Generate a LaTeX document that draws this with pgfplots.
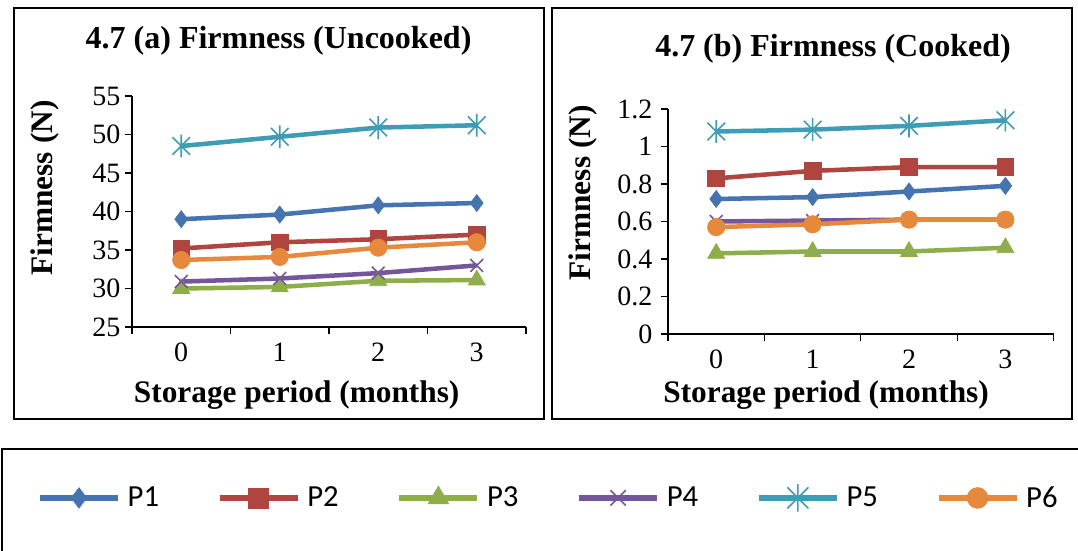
\documentclass[border=0pt]{standalone}
\usepackage{fontspec}
\setmainfont{Liberation Serif}
\newfontfamily\calibri{Carlito}
\usepackage{pgfplots}
\pgfplotsset{compat=1.18}

\definecolor{cP1}{HTML}{4674B0}
\definecolor{cP2}{HTML}{B0443F}
\definecolor{cP3}{HTML}{8EAD4B}
\definecolor{cP4}{HTML}{74579B}
\definecolor{cP5}{HTML}{3F9CB5}
\definecolor{cP6}{HTML}{E6893C}

\pgfdeclareplotmark{xstar}{%
  \pgfpathmoveto{\pgfpoint{-\pgfplotmarksize}{-\pgfplotmarksize}}%
  \pgfpathlineto{\pgfpoint{\pgfplotmarksize}{\pgfplotmarksize}}%
  \pgfpathmoveto{\pgfpoint{-\pgfplotmarksize}{\pgfplotmarksize}}%
  \pgfpathlineto{\pgfpoint{\pgfplotmarksize}{-\pgfplotmarksize}}%
  \pgfpathmoveto{\pgfpoint{0pt}{-1.3\pgfplotmarksize}}%
  \pgfpathlineto{\pgfpoint{0pt}{1.3\pgfplotmarksize}}%
  \pgfusepathqstroke}

\pgfplotsset{
  mystyle/.style={
    scale only axis,
    axis lines=left,
    axis line style={-, line width=1pt, black},
    tick align=outside,
    major tick length=5.25pt,
    minor tick length=5.25pt,
    tick style={line width=1pt, black},
    xmin=-0.5, xmax=3.5,
    xtick={0,1,2,3},
    minor xtick={-0.5,0.5,1.5,2.5,3.5},
    major x tick style={draw=none},
    xticklabel shift=3pt,
    ticklabel style={font=\fontsize{21}{24}\selectfont},
    /pgf/number format/assume math mode=true,
    label style={font=\bfseries\fontsize{23.5}{27}\selectfont},
    title style={font=\bfseries\fontsize{24}{28}\selectfont, anchor=center},
    clip=false,
  },
  pP1/.style={color=cP1, line width=3.4pt, mark=diamond*, mark size=6.4pt, mark options={line width=0.5pt, solid}},
  pP2/.style={color=cP2, line width=3.4pt, mark=square*, mark size=6.3pt, mark options={line width=0.5pt, solid}},
  pP3/.style={color=cP3, line width=3.4pt, mark=triangle*, mark size=7.4pt, mark options={line width=0.5pt, solid}},
  pP4/.style={color=cP4, line width=3.4pt, mark=x, mark size=6.8pt, mark options={line width=1.2pt, solid}},
  pP5/.style={color=cP5, line width=3.4pt, mark=xstar, mark size=6.6pt, mark options={line width=1.2pt, solid}},
  pP6/.style={color=cP6, line width=3.4pt, mark=*, mark size=6.5pt, mark options={line width=0.5pt, solid}},
}

\begin{document}
\begin{tikzpicture}[x=0.75pt,y=0.75pt]
\useasboundingbox (0,0) rectangle (1078,550);
\draw[line width=1.5pt] (14,131) rectangle (544,542);
\draw[line width=1.5pt] (552,131) rectangle (1072,542);
\draw[line width=1.5pt] (2,-5) -- (2,101) -- (1085,101);
\coordinate (L) at (132,223);
\coordinate (R) at (668,216);

\begin{axis}[mystyle,
  at={(L)}, anchor=south west,
  width=295.5pt, height=173.25pt,
  ymin=25, ymax=55, ytick={25,30,35,40,45,50,55},
  title={4.7 (a) Firmness (Uncooked)},
  title style={at={(axis description cs:0.372,1.203)}},
  xlabel={Storage period (months)},
  xlabel style={at={(axis description cs:0.418,-0.294)}, anchor=center},
  ylabel={Firmness (N)},
  ylabel style={at={(axis description cs:-0.221,0.602)}, anchor=center},
  legend columns=6,
  legend style={at={(axis description cs:-0.241,-0.740)}, anchor=west, draw=none, fill=none,
    inner sep=0pt, nodes={inner sep=0pt},
    font=\calibri\fontsize{23}{26}\selectfont,
    /tikz/every odd column/.append style={column sep=5.25pt},
    /tikz/every even column/.append style={column sep=43.5pt}},
  legend image code/.code={\draw[mark repeat=2,mark phase=2,#1,line width=4pt,every mark/.append style={scale=1.2}] plot coordinates {(0pt,0pt) (29.25pt,0pt) (58.5pt,0pt)};},
]
\addplot[pP1] coordinates {(0,39.0) (1,39.6) (2,40.8) (3,41.1)};
\addlegendentry{P1}
\addplot[pP2] coordinates {(0,35.2) (1,36.0) (2,36.4) (3,37.0)};
\addlegendentry{P2}
\addplot[pP3] coordinates {(0,30.0) (1,30.2) (2,31.0) (3,31.1)};
\addlegendentry{P3}
\addplot[pP4] coordinates {(0,30.9) (1,31.3) (2,32.0) (3,33.0)};
\addlegendentry{P4}
\addplot[pP5] coordinates {(0,48.5) (1,49.7) (2,50.9) (3,51.2)};
\addlegendentry{P5}
\addplot[pP6] coordinates {(0,33.7) (1,34.1) (2,35.3) (3,36.0)};
\addlegendentry{P6}
\end{axis}

\begin{axis}[mystyle,
  at={(R)}, anchor=south west,
  width=289.2pt, height=168.75pt,
  ymin=0, ymax=1.2, ytick={0,0.2,0.4,0.6,0.8,1,1.2},
  yticklabel style={/pgf/number format/fixed},
  yticklabel shift=3pt,
  title={4.7 (b) Firmness (Cooked)},
  title style={at={(axis description cs:0.428,1.231)}},
  xlabel={Storage period (months)},
  xlabel style={at={(axis description cs:0.410,-0.271)}, anchor=center},
  ylabel={Firmness (N)},
  ylabel style={at={(axis description cs:-0.221,0.627)}, anchor=center},
]
\addplot[pP1] coordinates {(0,0.72) (1,0.73) (2,0.76) (3,0.79)};
\addplot[pP2] coordinates {(0,0.83) (1,0.87) (2,0.89) (3,0.89)};
\addplot[pP3] coordinates {(0,0.43) (1,0.44) (2,0.44) (3,0.46)};
\addplot[pP4] coordinates {(0,0.60) (1,0.605) (2,0.61) (3,0.61)};
\addplot[pP5] coordinates {(0,1.08) (1,1.09) (2,1.11) (3,1.14)};
\addplot[pP6] coordinates {(0,0.57) (1,0.585) (2,0.61) (3,0.61)};
\end{axis}
\end{tikzpicture}
\end{document}
